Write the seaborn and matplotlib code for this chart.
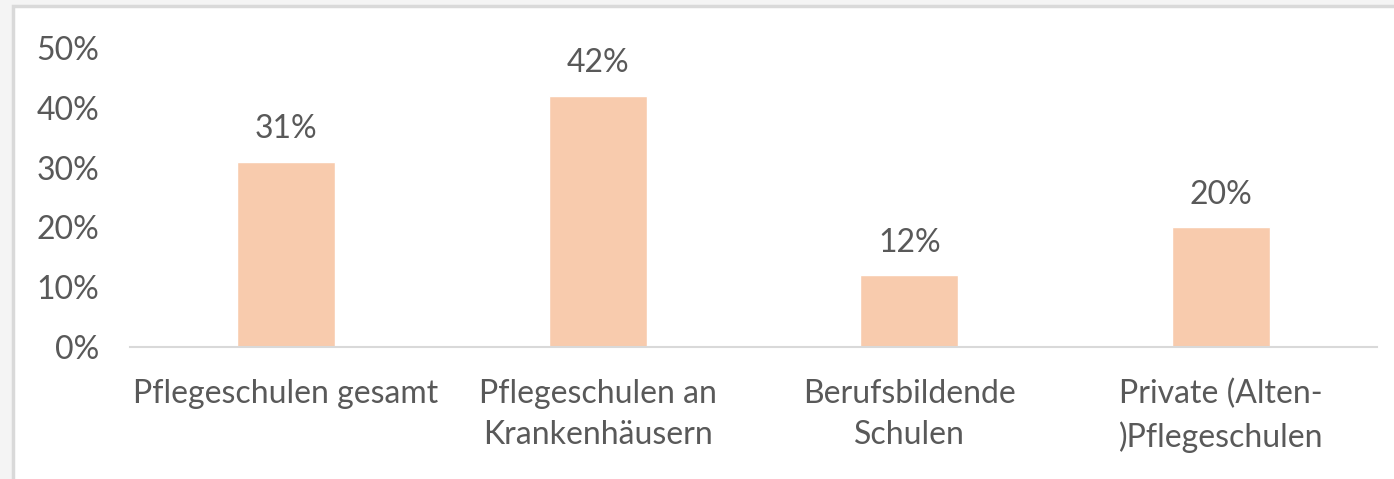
import matplotlib
matplotlib.use("Agg")
import matplotlib.pyplot as plt
import seaborn as sns
import pandas as pd
from matplotlib.patches import Rectangle
from matplotlib.ticker import PercentFormatter

# Data
categories = [
    "Pflegeschulen gesamt",
    "Pflegeschulen an\nKrankenhäusern",
    "Berufsbildende\nSchulen",
    "Private (Alten-\n)Pflegeschulen",
]
shares = [0.31, 0.42, 0.12, 0.20]
value_labels = ["31%", "42%", "12%", "20%"]

df = pd.DataFrame({"category": categories, "share": shares})

sns.set_style("white")
plt.rcParams["font.family"] = ["Lato", "DejaVu Sans"]

text_color = "#595959"
bar_color = "#f8cbad"
fs = 23

W, H = 1394, 479
fig = plt.figure(figsize=(W / 100, H / 100), dpi=100)
fig.patch.set_facecolor("#f4f4f4")

# white chart area with light grey frame (screenshot crop)
fig.patches.append(Rectangle((13 / W, -0.05), 1.1, 1 - 6 / H + 0.05,
                             transform=fig.transFigure, facecolor="white",
                             edgecolor="#d9d9d9", linewidth=2.5, zorder=-5))

ax = fig.add_axes([130 / W, 1 - 347 / H, (1377 - 130) / W, (347 - 48) / H])
ax.set_facecolor("none")

sns.barplot(data=df, x="category", y="share", color=bar_color,
            width=0.315, saturation=1, ax=ax)

ax.set_ylim(0, 0.5)
ax.set_yticks([0, 0.1, 0.2, 0.3, 0.4, 0.5])
ax.yaxis.set_major_formatter(PercentFormatter(1.0, decimals=0))
ax.set_xlim(-0.5, 3.5)

for i, (v, lab) in enumerate(zip(shares, value_labels)):
    ax.annotate(lab, (i, v), xytext=(0, 17), textcoords="offset points",
                ha="center", va="baseline", fontsize=fs, color=text_color)

sns.despine(ax=ax, left=True, top=True, right=True)
ax.spines["bottom"].set_color("#d9d9d9")
ax.spines["bottom"].set_linewidth(1.5)

ax.tick_params(axis="y", length=0, pad=22, labelsize=fs, labelcolor=text_color)
ax.tick_params(axis="x", length=0, pad=23, labelsize=fs, labelcolor=text_color)
for t in ax.get_xticklabels():
    t.set_linespacing(1.45)
    t.set_verticalalignment("top")

ax.set_xlabel("")
ax.set_ylabel("")

fig.savefig("out.png", dpi=100, facecolor=fig.get_facecolor())
